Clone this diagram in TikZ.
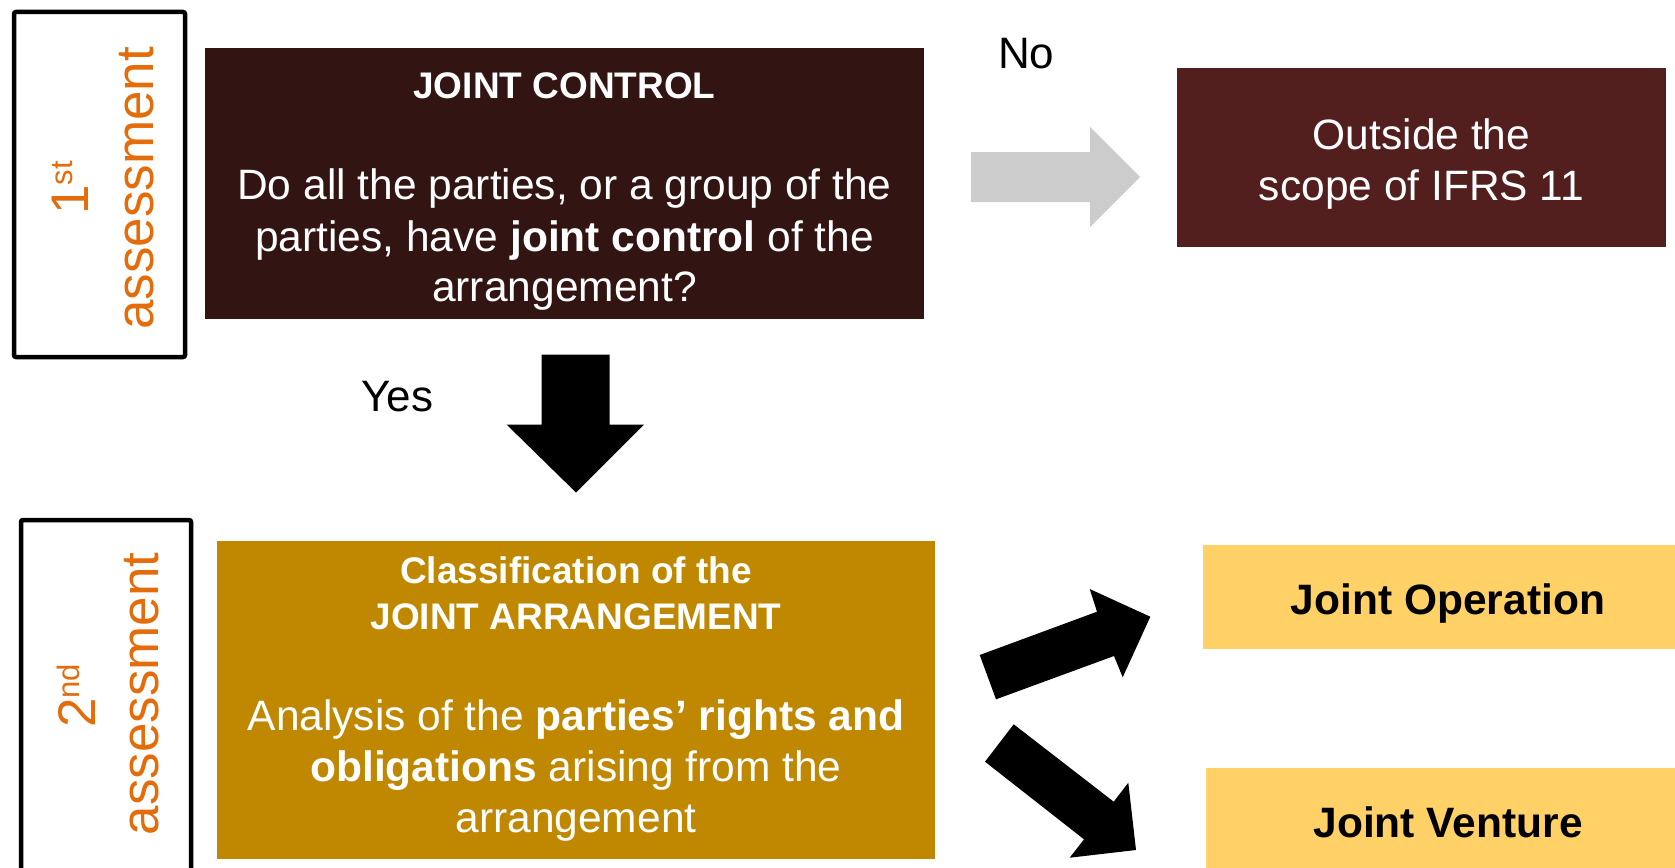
\documentclass[tikz,border=0pt]{standalone}
\usepackage{fontspec}
\setmainfont{Liberation Sans}
\definecolor{jcfill}{HTML}{321412}
\definecolor{outfill}{HTML}{521E1E}
\definecolor{clsfill}{HTML}{BF8800}
\definecolor{jfill}{HTML}{FFD166}
\definecolor{assorange}{HTML}{E46C0A}
\definecolor{arrowgrey}{HTML}{CCCCCC}
\begin{document}
\begin{tikzpicture}[x=1pt,y=-1pt,
  box/.style={rectangle, draw=none, inner sep=0pt, outer sep=0pt},
  assessbox/.style={rectangle, draw=black, line width=4.5pt, rounded corners=2pt, inner sep=0pt},
  txt/.style={inner sep=0pt, outer sep=0pt, text=white, align=center},
  title/.style={txt, font=\bfseries\fontsize{37}{46}\selectfont},
  body/.style={txt, font=\fontsize{42.5}{51}\selectfont},
  jtxt/.style={inner sep=0pt, text=black, font=\bfseries\fontsize{42.5}{51}\selectfont},
  asstxt/.style={inner sep=0pt, text=assorange, rotate=90, anchor=base, font=\fontsize{53}{65}\selectfont},
  yesno/.style={inner sep=0pt, text=black, anchor=base west, font=\fontsize{44}{52}\selectfont},
  blockarrow/.style={fill=black, draw=none}
]
\useasboundingbox (0,0) rectangle (1675,867);
\begin{scope}
\clip (0,0) rectangle (1675,867);
% assessment boxes
\node[assessbox, minimum width=171pt, minimum height=345pt] (as1) at (99.5,184.5) {};
\node[assessbox, minimum width=170pt, minimum height=380pt] (as2) at (106,710) {};
\node[asstxt] (as1a) at (88,188) {1\raisebox{16pt}{\fontsize{31}{31}\selectfont st}};
\node[asstxt] (as1b) at (153,188.5) {assessment};
\node[asstxt] (as2a) at (95,696) {2\raisebox{16pt}{\fontsize{31}{31}\selectfont nd}};
\node[asstxt] (as2b) at (158,694) {assessment};
% boxes
\node[box, fill=jcfill, minimum width=719pt, minimum height=271pt] (jc) at (564.5,183.5) {};
\node[box, fill=outfill, minimum width=489pt, minimum height=179pt] (out) at (1421.5,157.5) {};
\node[box, fill=clsfill, minimum width=718pt, minimum height=318pt] (cls) at (576,700) {};
\node[box, fill=jfill, minimum width=490pt, minimum height=104pt] (jo) at (1448,597) {};
\node[box, fill=jfill, minimum width=484pt, minimum height=132pt] (jv) at (1448,834) {};
% texts
\node[title, anchor=base] (jct) at (564.5,98) {JOINT CONTROL};
\node[body, anchor=north] (jcb) at (564.5,169.2) {Do all the parties, or a group of the\\parties, have \textbf{joint control} of the\\arrangement?};
\node[body, anchor=north] (outt) at (1421.5,118.6) {Outside the\\scope of IFRS 11};
\node[title, anchor=north] (clst) at (576,556.5) {Classification of the\\JOINT ARRANGEMENT};
\node[body, anchor=north] (clsb) at (576,699.6) {Analysis of the \textbf{parties’ rights and}\\\textbf{obligations} arising from the\\arrangement};
\node[jtxt, anchor=base] (jot) at (1448,614) {Joint Operation};
\node[jtxt, anchor=base] (jvt) at (1448,837) {Joint Venture};
\node[yesno] (no) at (998,69) {No};
\node[yesno] (yes) at (361,411) {Yes};
% arrows
\fill[arrowgrey] (971,152) -- (1090,152) -- (1090,127) -- (1140,177) -- (1090,227) -- (1090,202) -- (971,202) -- cycle;
\fill[blockarrow] (541.5,354.5) -- (609.5,354.5) -- (609.5,424.5) -- (644,424.5) -- (576,492.5) -- (506.5,424.5) -- (541.5,424.5) -- cycle;
\fill[blockarrow] (979.7,655) -- (1097,611.7) -- (1089.7,589) -- (1150.3,616.7) -- (1122.7,677.3) -- (1114,656) -- (996,699.3) -- cycle;
\fill[blockarrow] (1013.7,724.3) -- (1113.7,801.7) -- (1128.3,782.7) -- (1136,850) -- (1069.7,857.7) -- (1084,839.3) -- (985,761.7) -- cycle;
\end{scope}
\end{tikzpicture}
\end{document}
